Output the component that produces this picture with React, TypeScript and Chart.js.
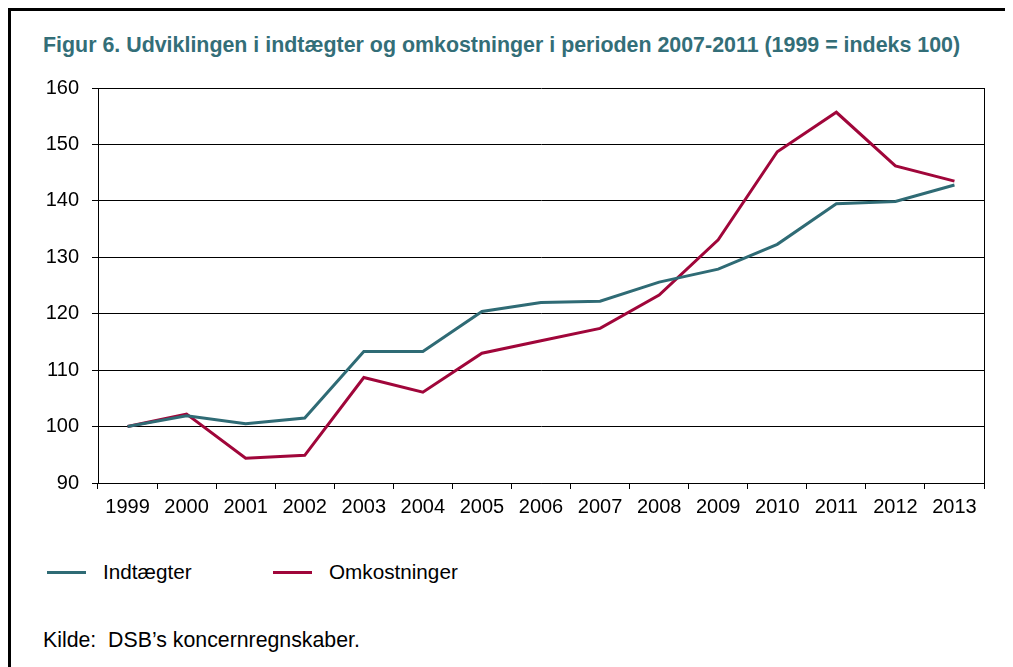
import React, { useEffect, useRef } from "react";
import { Chart, registerables } from "chart.js";

Chart.register(...registerables);

const years = ["1999", "2000", "2001", "2002", "2003", "2004", "2005", "2006", "2007", "2008", "2009", "2010", "2011", "2012", "2013"];
const indtaegter = [100, 101.9, 100.5, 101.5, 113.3, 113.3, 120.4, 122.0, 122.2, 125.6, 127.9, 132.3, 139.5, 139.9, 142.8];
const omkostninger = [100, 102.2, 94.4, 94.9, 108.7, 106.1, 113.0, 115.2, 117.4, 123.3, 133.1, 148.7, 155.7, 146.2, 143.5];
const seriesNames = ["Indtægter", "Omkostninger"];
const seriesColors = ["#2F6B75", "#A0063A"];
const yMin = 90;
const yMax = 160;
const yStep = 10;
const titleText = "Figur 6. Udviklingen i indtægter og omkostninger i perioden 2007-2011 (1999 = indeks 100)";
const sourceText = "Kilde:  DSB\u2019s koncernregnskaber.";

const FONT = "'Liberation Sans', Arial, Helvetica, sans-serif";

export default function App() {
  const canvasRef = useRef<HTMLCanvasElement | null>(null);

  useEffect(() => {
    const canvas = canvasRef.current;
    if (!canvas) return;
    const chart = new Chart(canvas, {
      type: "line",
      data: {
        labels: years,
        datasets: [
          {
            label: seriesNames[0],
            data: indtaegter,
            borderColor: seriesColors[0],
            backgroundColor: seriesColors[0],
            borderWidth: 3,
            pointRadius: 0,
            tension: 0,
            yAxisID: "y",
          },
          {
            label: seriesNames[1],
            data: omkostninger,
            borderColor: seriesColors[1],
            backgroundColor: seriesColors[1],
            borderWidth: 3,
            pointRadius: 0,
            tension: 0,
            yAxisID: "y",
          },
        ],
      },
      options: {
        animation: false,
        responsive: false,
        maintainAspectRatio: false,
        layout: { padding: { top: 77, right: 29, bottom: 18, left: 0 } },
        plugins: {
          legend: { display: false },
          title: { display: false },
          tooltip: { enabled: false },
        },
        scales: {
          x: {
            type: "category",
            offset: true,
            grid: {
              offset: true,
              drawOnChartArea: false,
              drawTicks: true,
              tickLength: 6,
              color: "#000",
              lineWidth: 1,
            },
            border: { display: true, color: "#000", width: 1 },
            ticks: {
              color: "#000",
              font: { family: FONT, size: 20 },
              padding: 6,
              maxRotation: 0,
              autoSkip: false,
            },
            afterFit: (scale: any) => {
              scale.height = 40;
            },
          },
          y: {
            type: "linear",
            position: "left",
            min: yMin,
            max: yMax,
            grid: {
              color: "#000",
              lineWidth: 1,
              drawTicks: true,
              tickLength: 6,
            },
            border: { display: true, color: "#000", width: 1 },
            ticks: {
              stepSize: yStep,
              color: "#000",
              font: { family: FONT, size: 20 },
              padding: 13,
            },
            afterFit: (scale: any) => {
              scale.width = 87;
            },
          },
          y2: {
            type: "linear",
            position: "right",
            min: yMin,
            max: yMax,
            grid: { display: false, drawOnChartArea: false, drawTicks: false },
            border: { display: true, color: "#000", width: 1 },
            ticks: { display: false },
            afterFit: (scale: any) => {
              scale.width = 0;
            },
          },
        },
      },
    });
    return () => chart.destroy();
  }, []);

  const legendItem = (i: number, left: number) => (
    <div
      key={i}
      style={{
        position: "absolute",
        left,
        top: 549,
        height: 24,
        display: "flex",
        alignItems: "center",
      }}
    >
      <div style={{ width: 39, height: 3, background: seriesColors[i] }} />
      <span style={{ marginLeft: 17, fontSize: 20.7, lineHeight: "24px", color: "#000", fontFamily: FONT }}>
        {seriesNames[i]}
      </span>
    </div>
  );

  return (
    <div
      style={{
        position: "relative",
        width: 1002,
        height: 656,
        borderTop: "3px solid #000",
        borderLeft: "3px solid #000",
        overflow: "hidden",
        background: "#fff",
        fontFamily: FONT,
      }}
    >
      <div
        style={{
          position: "absolute",
          left: 32,
          top: 22,
          fontSize: 21.4,
          lineHeight: "24px",
          fontWeight: "bold",
          color: "#336E78",
          whiteSpace: "nowrap",
        }}
      >
        {titleText}
      </div>
      <canvas ref={canvasRef} width={1002} height={530} style={{ position: "absolute", left: 0, top: 0, width: 1002, height: 530 }} />
      {legendItem(0, 36)}
      {legendItem(1, 262)}
      <div
        style={{
          position: "absolute",
          left: 32,
          top: 617,
          fontSize: 21.3,
          lineHeight: "24px",
          color: "#000",
          whiteSpace: "pre",
        }}
      >
        {sourceText}
      </div>
    </div>
  );
}
